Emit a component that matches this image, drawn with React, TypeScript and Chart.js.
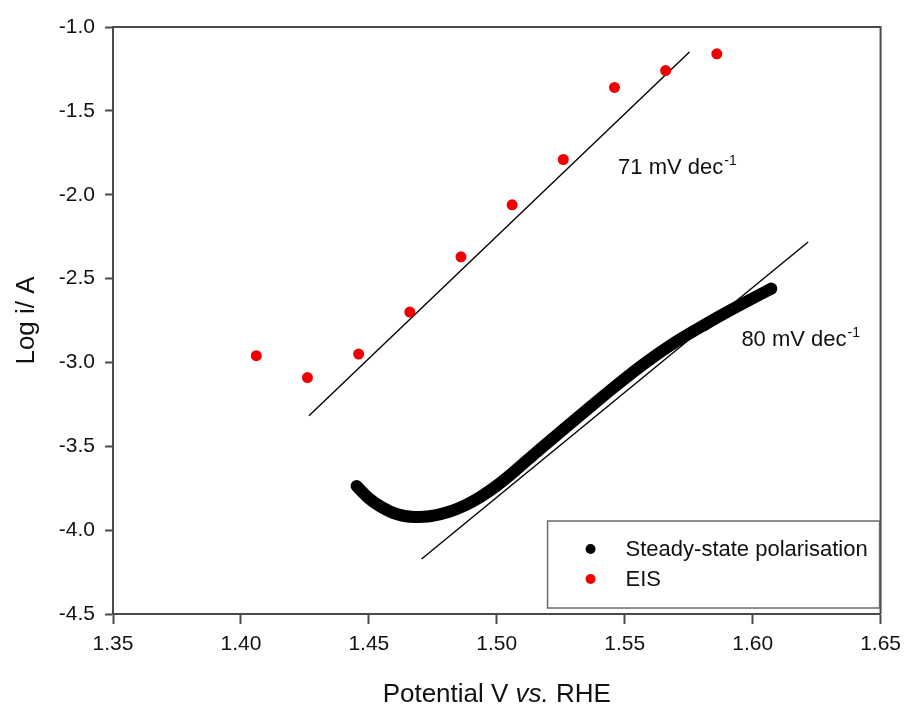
import React, { useEffect, useRef } from 'react';
import { Chart, registerables } from 'chart.js';

Chart.register(...registerables);

const FONT = '"Liberation Sans", Arial, Helvetica, sans-serif';
const AXIS_COLOR = '#4a4a4a';
const TEXT_COLOR = '#111111';

// Tick labels
const xTickValues = [1.35, 1.4, 1.45, 1.5, 1.55, 1.6, 1.65];
const yTickValues = [-4.5, -4.0, -3.5, -3.0, -2.5, -2.0, -1.5, -1.0];

// EIS series
const eisPotential = [1.406, 1.426, 1.446, 1.466, 1.486, 1.506, 1.526, 1.546, 1.566, 1.586];
const eisLogI = [-2.96, -3.09, -2.95, -2.7, -2.37, -2.06, -1.79, -1.36, -1.26, -1.16];

// Steady-state polarisation series
const ssPotential = [
  1.4452, 1.4499, 1.4549, 1.4608, 1.4677, 1.4744, 1.481, 1.4876, 1.4938, 1.5004, 1.507,
  1.5159, 1.5264, 1.5354, 1.5459, 1.5587, 1.5703, 1.5816, 1.5929, 1.6014, 1.6073,
];
const ssLogI = [
  -3.737, -3.809, -3.862, -3.904, -3.922, -3.916, -3.892, -3.852, -3.8, -3.73, -3.648,
  -3.53, -3.395, -3.28, -3.147, -2.995, -2.874, -2.772, -2.676, -2.607, -2.56,
];

// Tafel fit lines
const fit71Potential = [1.4266, 1.5753];
const fit71LogI = [-3.318, -1.149];
const fit80Potential = [1.4706, 1.6217];
const fit80LogI = [-4.172, -2.282];

// Annotations (anchor in data units: left edge / baseline)
const annotationText = ['71 mV dec', '80 mV dec'];
const annotationSup = ['-1', '-1'];
const annotationX = [1.5474, 1.5956];
const annotationY = [-1.877, -2.902];

const toPoints = (xs: number[], ys: number[]) => xs.map((x, i) => ({ x, y: ys[i] }));

const overlayPlugin = {
  id: 'overlay',
  afterDraw(chart: any) {
    const { ctx, chartArea: a, scales } = chart;
    const xs = scales.x;
    const ys = scales.y;
    ctx.save();

    // top & right frame
    ctx.strokeStyle = AXIS_COLOR;
    ctx.lineWidth = 2;
    ctx.beginPath();
    ctx.moveTo(a.left, a.top);
    ctx.lineTo(a.right, a.top);
    ctx.lineTo(a.right, a.bottom);
    ctx.stroke();

    // annotations
    ctx.fillStyle = TEXT_COLOR;
    ctx.textBaseline = 'alphabetic';
    ctx.textAlign = 'left';
    annotationText.forEach((t, i) => {
      const px = xs.getPixelForValue(annotationX[i]);
      const py = ys.getPixelForValue(annotationY[i]);
      ctx.font = `22px ${FONT}`;
      ctx.fillText(t, px, py);
      const w = ctx.measureText(t).width;
      ctx.font = `14px ${FONT}`;
      ctx.fillText(annotationSup[i], px + w + 1, py - 9);
    });

    // legend box
    const boxRight = a.right - 1;
    const boxBottom = a.bottom - 6;
    const boxW = 332;
    const boxH = 87;
    const bx = boxRight - boxW;
    const by = boxBottom - boxH;
    ctx.fillStyle = '#ffffff';
    ctx.fillRect(bx, by, boxW, boxH);
    ctx.strokeStyle = '#6a6a6a';
    ctx.lineWidth = 1.5;
    ctx.strokeRect(bx, by, boxW, boxH);
    const items = chart.data.datasets.filter((d: any) => d.label);
    items.forEach((d: any, i: number) => {
      const cy = by + 28 + i * 30;
      ctx.fillStyle = d.legendColor;
      ctx.beginPath();
      ctx.arc(bx + 43, cy, 5, 0, Math.PI * 2);
      ctx.fill();
      ctx.fillStyle = TEXT_COLOR;
      ctx.font = `22px ${FONT}`;
      ctx.textBaseline = 'middle';
      ctx.fillText(d.label, bx + 78, cy + 1);
    });

    // x-axis title with italic "vs."
    const parts = [
      { t: 'Potential V ', f: `26px ${FONT}` },
      { t: 'vs.', f: `italic 26px ${FONT}` },
      { t: ' RHE', f: `26px ${FONT}` },
    ];
    let total = 0;
    parts.forEach((p) => {
      ctx.font = p.f;
      total += ctx.measureText(p.t).width;
    });
    let tx = (a.left + a.right) / 2 - total / 2;
    const baseY = chart.height - 4;
    ctx.textBaseline = 'alphabetic';
    ctx.fillStyle = TEXT_COLOR;
    parts.forEach((p) => {
      ctx.font = p.f;
      ctx.fillText(p.t, tx, baseY);
      tx += ctx.measureText(p.t).width;
    });

    ctx.restore();
  },
};

export default function App() {
  const canvasRef = useRef<HTMLCanvasElement | null>(null);

  useEffect(() => {
    document.body.style.margin = '0';
    const canvas = canvasRef.current;
    if (!canvas) return;
    const chart = new Chart(canvas, {
      type: 'scatter',
      data: {
        datasets: [
          {
            label: 'Steady-state polarisation',
            legendColor: '#000000',
            data: toPoints(ssPotential, ssLogI),
            showLine: true,
            borderColor: '#000000',
            backgroundColor: '#000000',
            borderWidth: 12,
            borderCapStyle: 'round',
            borderJoinStyle: 'round',
            cubicInterpolationMode: 'monotone',
            pointRadius: 0,
            order: 2,
          } as any,
          {
            label: 'EIS',
            legendColor: '#f00000',
            data: toPoints(eisPotential, eisLogI),
            showLine: false,
            backgroundColor: '#f00000',
            borderColor: '#f00000',
            pointRadius: 5.5,
            pointBorderWidth: 0,
            order: 0,
          } as any,
          {
            label: '',
            data: toPoints(fit71Potential, fit71LogI),
            showLine: true,
            borderColor: '#000000',
            borderWidth: 1.4,
            pointRadius: 0,
            order: 1,
          } as any,
          {
            label: '',
            data: toPoints(fit80Potential, fit80LogI),
            showLine: true,
            borderColor: '#000000',
            borderWidth: 1.4,
            pointRadius: 0,
            order: 1,
          } as any,
        ],
      },
      options: {
        responsive: false,
        animation: false,
        devicePixelRatio: 1,
        layout: { padding: { left: 0, top: 27, right: 24, bottom: 0 } },
        plugins: {
          legend: { display: false },
          tooltip: { enabled: false },
        },
        scales: {
          x: {
            type: 'linear',
            min: 1.35,
            max: 1.65,
            afterBuildTicks: (s: any) => {
              s.ticks = xTickValues.map((v) => ({ value: v }));
            },
            afterFit: (s: any) => {
              s.height = 92;
            },
            grid: {
              drawOnChartArea: false,
              drawTicks: true,
              tickLength: 10,
              tickColor: AXIS_COLOR,
              tickWidth: 2,
            },
            border: { display: true, color: AXIS_COLOR, width: 2 },
            ticks: {
              padding: 8,
              color: TEXT_COLOR,
              font: { family: FONT, size: 21 },
              maxRotation: 0,
              callback: (v: any) => Number(v).toFixed(2),
            },
            title: { display: false },
          },
          y: {
            type: 'linear',
            min: -4.5,
            max: -1.0,
            afterBuildTicks: (s: any) => {
              s.ticks = yTickValues.map((v) => ({ value: v }));
            },
            afterFit: (s: any) => {
              s.width = 113;
            },
            grid: {
              drawOnChartArea: false,
              drawTicks: true,
              tickLength: 8,
              tickColor: AXIS_COLOR,
              tickWidth: 2,
            },
            border: { display: true, color: AXIS_COLOR, width: 2 },
            ticks: {
              padding: 10,
              color: TEXT_COLOR,
              font: { family: FONT, size: 21 },
              callback: (v: any) => Number(v).toFixed(1),
            },
            title: {
              display: true,
              text: 'Log i/ A',
              color: TEXT_COLOR,
              font: { family: FONT, size: 26 },
              padding: { top: 11, bottom: 0 },
            },
          },
        },
      } as any,
      plugins: [overlayPlugin],
    });
    return () => chart.destroy();
  }, []);

  return (
    <div style={{ width: 909, height: 706, background: '#ffffff' }}>
      <canvas ref={canvasRef} width={909} height={706} style={{ display: 'block' }} />
    </div>
  );
}
